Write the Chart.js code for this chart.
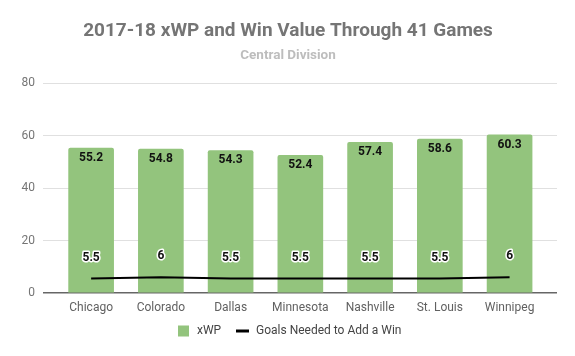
<!DOCTYPE html>
<html><head><meta charset="utf-8">
<script src="https://cdn.jsdelivr.net/npm/chart.js@4"></script>
<style>html,body{margin:0;padding:0;background:#fff}#w{width:575px;height:356px}</style>
</head><body><div id="w"><canvas id="c"></canvas></div>
<script>
const categories = ["Chicago","Colorado","Dallas","Minnesota","Nashville","St. Louis","Winnipeg"];
const xwp = [55.2, 54.8, 54.3, 52.4, 57.4, 58.6, 60.3];
const goalsNeeded = [5.5, 6, 5.5, 5.5, 5.5, 5.5, 6];
const yTicks = [0, 20, 40, 60, 80];
const titleText = '2017-18 xWP and Win Value Through 41 Games';
const subtitleText = 'Central Division';
const seriesNames = ['xWP', 'Goals Needed to Add a Win'];

const labelPlugin = {
  id: 'valLabels',
  afterDatasetsDraw(chart) {
    const ctx = chart.ctx;
    ctx.save();
    ctx.textAlign = 'center';
    ctx.textBaseline = 'middle';
    ctx.font = 'bold 19px Roboto';
    ctx.fillStyle = '#757575';
    ctx.fillText(titleText, 288, 31);
    ctx.font = 'bold 13.5px Roboto';
    ctx.fillStyle = '#bdbdbd';
    ctx.fillText(subtitleText, 288, 56);
    ctx.font = 'bold 12px Roboto';
    const mBar = chart.getDatasetMeta(1);
    mBar.data.forEach((el, i) => {
      ctx.fillStyle = '#111';
      ctx.fillText(String(xwp[i]), el.x, el.y + 10);
    });
    const mLine = chart.getDatasetMeta(0);
    mLine.data.forEach((el, i) => {
      ctx.lineWidth = 3;
      ctx.strokeStyle = '#fff';
      ctx.lineJoin = 'round';
      ctx.strokeText(String(goalsNeeded[i]), el.x, el.y - 21);
      ctx.fillStyle = '#111';
      ctx.fillText(String(goalsNeeded[i]), el.x, el.y - 21);
    });
    // legend
    const ly = 331;
    ctx.fillStyle = '#93c47d';
    ctx.fillRect(178, ly - 5.5, 11, 11);
    ctx.font = '12px Roboto';
    ctx.textAlign = 'left';
    ctx.fillStyle = '#444';
    ctx.fillText(seriesNames[0], 197, ly);
    ctx.strokeStyle = '#000';
    ctx.lineWidth = 3;
    ctx.beginPath(); ctx.moveTo(236, ly); ctx.lineTo(249, ly); ctx.stroke();
    ctx.fillStyle = '#444';
    ctx.fillText(seriesNames[1], 256, ly);
    ctx.restore();
  }
};

new Chart(document.getElementById('c'), {
  data: {
    datasets: [
      { type: 'line', label: seriesNames[1], data: goalsNeeded.map((v,i)=>({x:i,y:v})),
        borderColor: '#000', backgroundColor: '#000', borderWidth: 2, pointRadius: 0, order: 0 },
      { type: 'bar', label: seriesNames[0], data: xwp.map((v,i)=>({x:i,y:v})),
        backgroundColor: '#93c47d', barThickness: 45, borderRadius: {topLeft:2, topRight:2}, borderSkipped: 'bottom', order: 1 }
    ]
  },
  options: {
    responsive: true, maintainAspectRatio: false, animation: false,
    layout: { padding: { left: 0, right: 18, top: 83, bottom: 33 } },
    plugins: {
      title: { display: false },
      legend: { display: false },
      tooltip: { enabled: false }
    },
    scales: {
      x: { type: 'linear', min: -0.69, max: 6.68, offset: false,
        afterBuildTicks(s) { s.ticks = categories.map((c,i)=>({value:i})); },
        afterFit(s) { s.height = 30; },
        ticks: { callback: (v) => categories[v], color: '#616161', font: { family: 'Roboto', size: 12 }, autoSkip: false, maxRotation: 0, padding: 8 },
        grid: { display: false, drawTicks: false }, border: { display: false } },
      y: { min: 0, max: 80,
        afterBuildTicks(s) { s.ticks = yTicks.map(v=>({value:v})); },
        afterFit(s) { s.width = 43; },
        ticks: { color: '#757575', font: { family: 'Roboto', size: 12 }, padding: 8 },
        grid: { color: (c) => c.tick.value === 0 ? '#666' : '#e0e0e0', lineWidth: (c)=> c.tick.value===0?1.5:1, drawTicks: false },
        border: { display: false } }
    }
  },
  plugins: [labelPlugin]
});
</script></body></html>
